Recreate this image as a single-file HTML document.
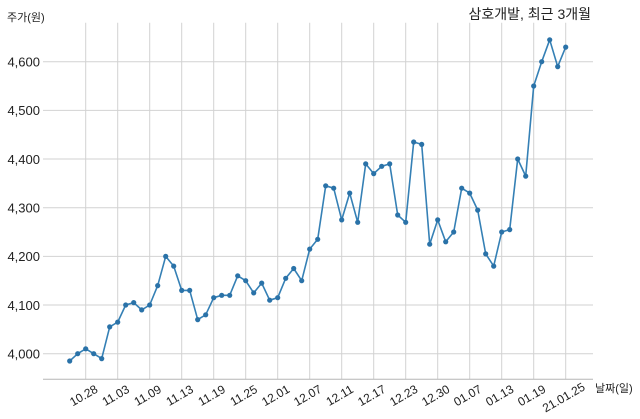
<!DOCTYPE html>
<html><head><meta charset="utf-8"><style>
html,body{margin:0;padding:0;background:#fff;}
svg{display:block;}
text{font-family:"Liberation Sans","Noto Sans CJK KR",sans-serif;fill:#222;}
</style></head><body>
<svg width="640" height="419" viewBox="0 0 640 419" xmlns="http://www.w3.org/2000/svg">
<defs>
<marker id="dot" markerUnits="userSpaceOnUse" markerWidth="8" markerHeight="8" refX="4" refY="4" viewBox="0 0 8 8">
<circle cx="4" cy="4" r="2.6" fill="#2a72a8"/>
</marker>
</defs>
<rect width="640" height="419" fill="#fff"/>
<path stroke="#d2d2d2" stroke-width="1" fill="none" d="M43 61.7H593M43 110.4H593M43 159H593M43 207.7H593M43 256.4H593M43 305H593M43 353.7H593M85.7 22.7V379.3M117.7 22.7V379.3M149.7 22.7V379.3M181.7 22.7V379.3M213.7 22.7V379.3M245.7 22.7V379.3M277.7 22.7V379.3M309.7 22.7V379.3M341.7 22.7V379.3M373.7 22.7V379.3M405.7 22.7V379.3M437.7 22.7V379.3M469.7 22.7V379.3M501.7 22.7V379.3M533.7 22.7V379.3M565.7 22.7V379.3"/>
<line x1="43" y1="379.3" x2="593" y2="379.3" stroke="#b5b5b5" stroke-width="1"/>
<g font-size="13" text-anchor="end">
<text x="40" y="66.5">4,600</text>
<text x="40" y="115.2">4,500</text>
<text x="40" y="163.8">4,400</text>
<text x="40" y="212.5">4,300</text>
<text x="40" y="261.2">4,200</text>
<text x="40" y="309.8">4,100</text>
<text x="40" y="358.5">4,000</text>
</g>
<text x="7" y="21" font-size="11" fill="#333">주가(원)</text>
<text x="591" y="19" font-size="14" text-anchor="end">삼호개발, 최근 3개월</text>
<text x="595" y="392" font-size="11" fill="#333">날짜(일)</text>
<g font-size="12" text-anchor="middle">
<text transform="translate(85.7,399) rotate(-30)">10.28</text>
<text transform="translate(117.7,399) rotate(-30)">11.03</text>
<text transform="translate(149.7,399) rotate(-30)">11.09</text>
<text transform="translate(181.7,399) rotate(-30)">11.13</text>
<text transform="translate(213.7,399) rotate(-30)">11.19</text>
<text transform="translate(245.7,399) rotate(-30)">11.25</text>
<text transform="translate(277.7,399) rotate(-30)">12.01</text>
<text transform="translate(309.7,399) rotate(-30)">12.07</text>
<text transform="translate(341.7,399) rotate(-30)">12.11</text>
<text transform="translate(373.7,399) rotate(-30)">12.17</text>
<text transform="translate(405.7,399) rotate(-30)">12.23</text>
<text transform="translate(437.7,399) rotate(-30)">12.30</text>
<text transform="translate(469.7,399) rotate(-30)">01.07</text>
<text transform="translate(501.7,399) rotate(-30)">01.13</text>
<text transform="translate(533.7,399) rotate(-30)">01.19</text>
<text transform="translate(565.7,401) rotate(-30)">21.01.25</text>
</g>
<polyline fill="none" stroke="#3580b5" stroke-width="1.6" stroke-linejoin="round" marker-start="url(#dot)" marker-mid="url(#dot)" marker-end="url(#dot)" points="69.7,361.0 77.7,353.7 85.7,348.8 93.7,353.7 101.7,358.6 109.7,326.9 117.7,322.1 125.7,305.0 133.7,302.6 141.7,309.9 149.7,305.0 157.7,285.6 165.7,256.4 173.7,266.1 181.7,290.4 189.7,290.4 197.7,319.6 205.7,314.8 213.7,297.7 221.7,295.3 229.7,295.3 237.7,275.8 245.7,280.7 253.7,292.9 261.7,283.1 269.7,300.2 277.7,297.7 285.7,278.3 293.7,268.5 301.7,280.7 309.7,249.1 317.7,239.3 325.7,185.8 333.7,188.2 341.7,219.9 349.7,193.1 357.7,222.3 365.7,163.9 373.7,173.6 381.7,166.3 389.7,163.9 397.7,215.0 405.7,222.3 413.7,142.0 421.7,144.4 429.7,244.2 437.7,219.9 445.7,241.8 453.7,232.0 461.7,188.2 469.7,193.1 477.7,210.1 485.7,253.9 493.7,266.1 501.7,232.0 509.7,229.6 517.7,159.0 525.7,176.1 533.7,86.0 541.7,61.7 549.7,39.8 557.7,66.6 565.7,47.1"/>
</svg>
</body></html>
